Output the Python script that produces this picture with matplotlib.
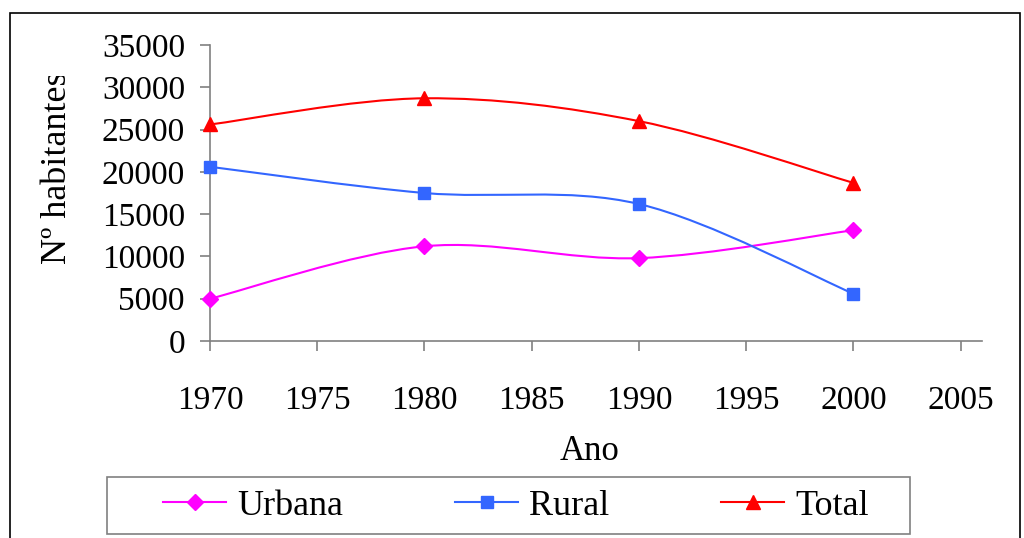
import numpy as np
import matplotlib
matplotlib.use("Agg")
import matplotlib.pyplot as plt
from matplotlib.path import Path
from matplotlib.patches import PathPatch, Rectangle
from matplotlib.lines import Line2D
from matplotlib.transforms import Bbox, TransformedBbox

plt.rcParams.update({"font.family": ["Liberation Serif", "DejaVu Serif"], "font.size": 24})

anos = [1970, 1980, 1990, 2000]
urbana = [5000, 11200, 9800, 13100]
rural = [20600, 17500, 16200, 5600]
total = [25600, 28700, 26000, 18700]
xticks = [1970, 1975, 1980, 1985, 1990, 1995, 2000, 2005]
yticks = [0, 5000, 10000, 15000, 20000, 25000, 30000, 35000]

MAG = "#FF00FF"; BLUE = "#3366FF"; RED = "#FF0000"; AX = "#808080"


def smooth_path(x, y):
    # Catmull-Rom style bezier through the points (like Excel "smoothed line")
    p = np.column_stack([x, y]).astype(float)
    verts = [p[0]]; codes = [Path.MOVETO]
    n = len(p)
    for i in range(n - 1):
        p0 = p[i - 1] if i > 0 else p[i]
        p3 = p[i + 2] if i + 2 < n else p[i + 1]
        c1 = p[i] + (p[i + 1] - p0) / 6
        c2 = p[i + 1] - (p3 - p[i]) / 6
        verts += [c1, c2, p[i + 1]]; codes += [Path.CURVE4] * 3
    return Path(verts, codes)


fig = plt.figure(figsize=(10.24, 5.38), dpi=100)
ax = fig.add_axes([210 / 1024, 1 - 341 / 538, (982 - 210) / 1024, (341 - 45) / 538])

series = [("Urbana", urbana, MAG, "D", 8), ("Rural", rural, BLUE, "s", 9), ("Total", total, RED, "^", 10)]
handles = []
for name, vals, c, m, ms in series:
    ax.add_patch(PathPatch(smooth_path(anos, vals), facecolor="none", edgecolor=c, lw=1.5, zorder=3))
    ax.plot(anos, vals, ls="none", marker=m, ms=ms, color=c, zorder=4, clip_on=False)
    handles.append(Line2D([], [], color=c, lw=1.5, marker=m, ms=ms, label=name))

ax.set_xlim(1970, 2006); ax.set_ylim(0, 35000)
ax.set_xticks(xticks); ax.set_yticks(yticks)
for s in ["top", "right"]:
    ax.spines[s].set_visible(False)
for s in ["left", "bottom"]:
    ax.spines[s].set_color(AX); ax.spines[s].set_linewidth(1.2)
ax.tick_params(axis="y", direction="out", length=7, width=1.2, color=AX, pad=11)
ax.tick_params(axis="x", direction="out", length=7, width=1.2, color=AX, pad=25)

fig.text(590 / 1024, 1 - 452 / 538, "Ano", ha="center", va="center", fontsize=25)
yl = fig.text(57 / 1024, 1 - 168 / 538, "Nº habitantes", rotation=90, ha="center", va="center", fontsize=26)
yl.set_clip_box(TransformedBbox(Bbox.from_extents(0, 0, 1, 1 - 76 / 538), fig.transFigure))
yl.set_clip_on(True)

leg = fig.legend(handles=handles, loc="center", bbox_to_anchor=(516 / 1024, 1 - 506 / 538), ncol=3,
                 frameon=False, fontsize=26, handlelength=1.75, columnspacing=3.1, handletextpad=0.3)
fig.add_artist(Rectangle((107 / 1024, 1 - 534 / 538), 803 / 1024, 57 / 538, transform=fig.transFigure,
                         fill=False, edgecolor=AX, lw=1.2))

fig.add_artist(Rectangle((10 / 1024, -0.1), 1010 / 1024, 1.1 - 13 / 538, transform=fig.transFigure,
                         fill=False, edgecolor="black", lw=1.2))

fig.savefig("out.png", dpi=100)
